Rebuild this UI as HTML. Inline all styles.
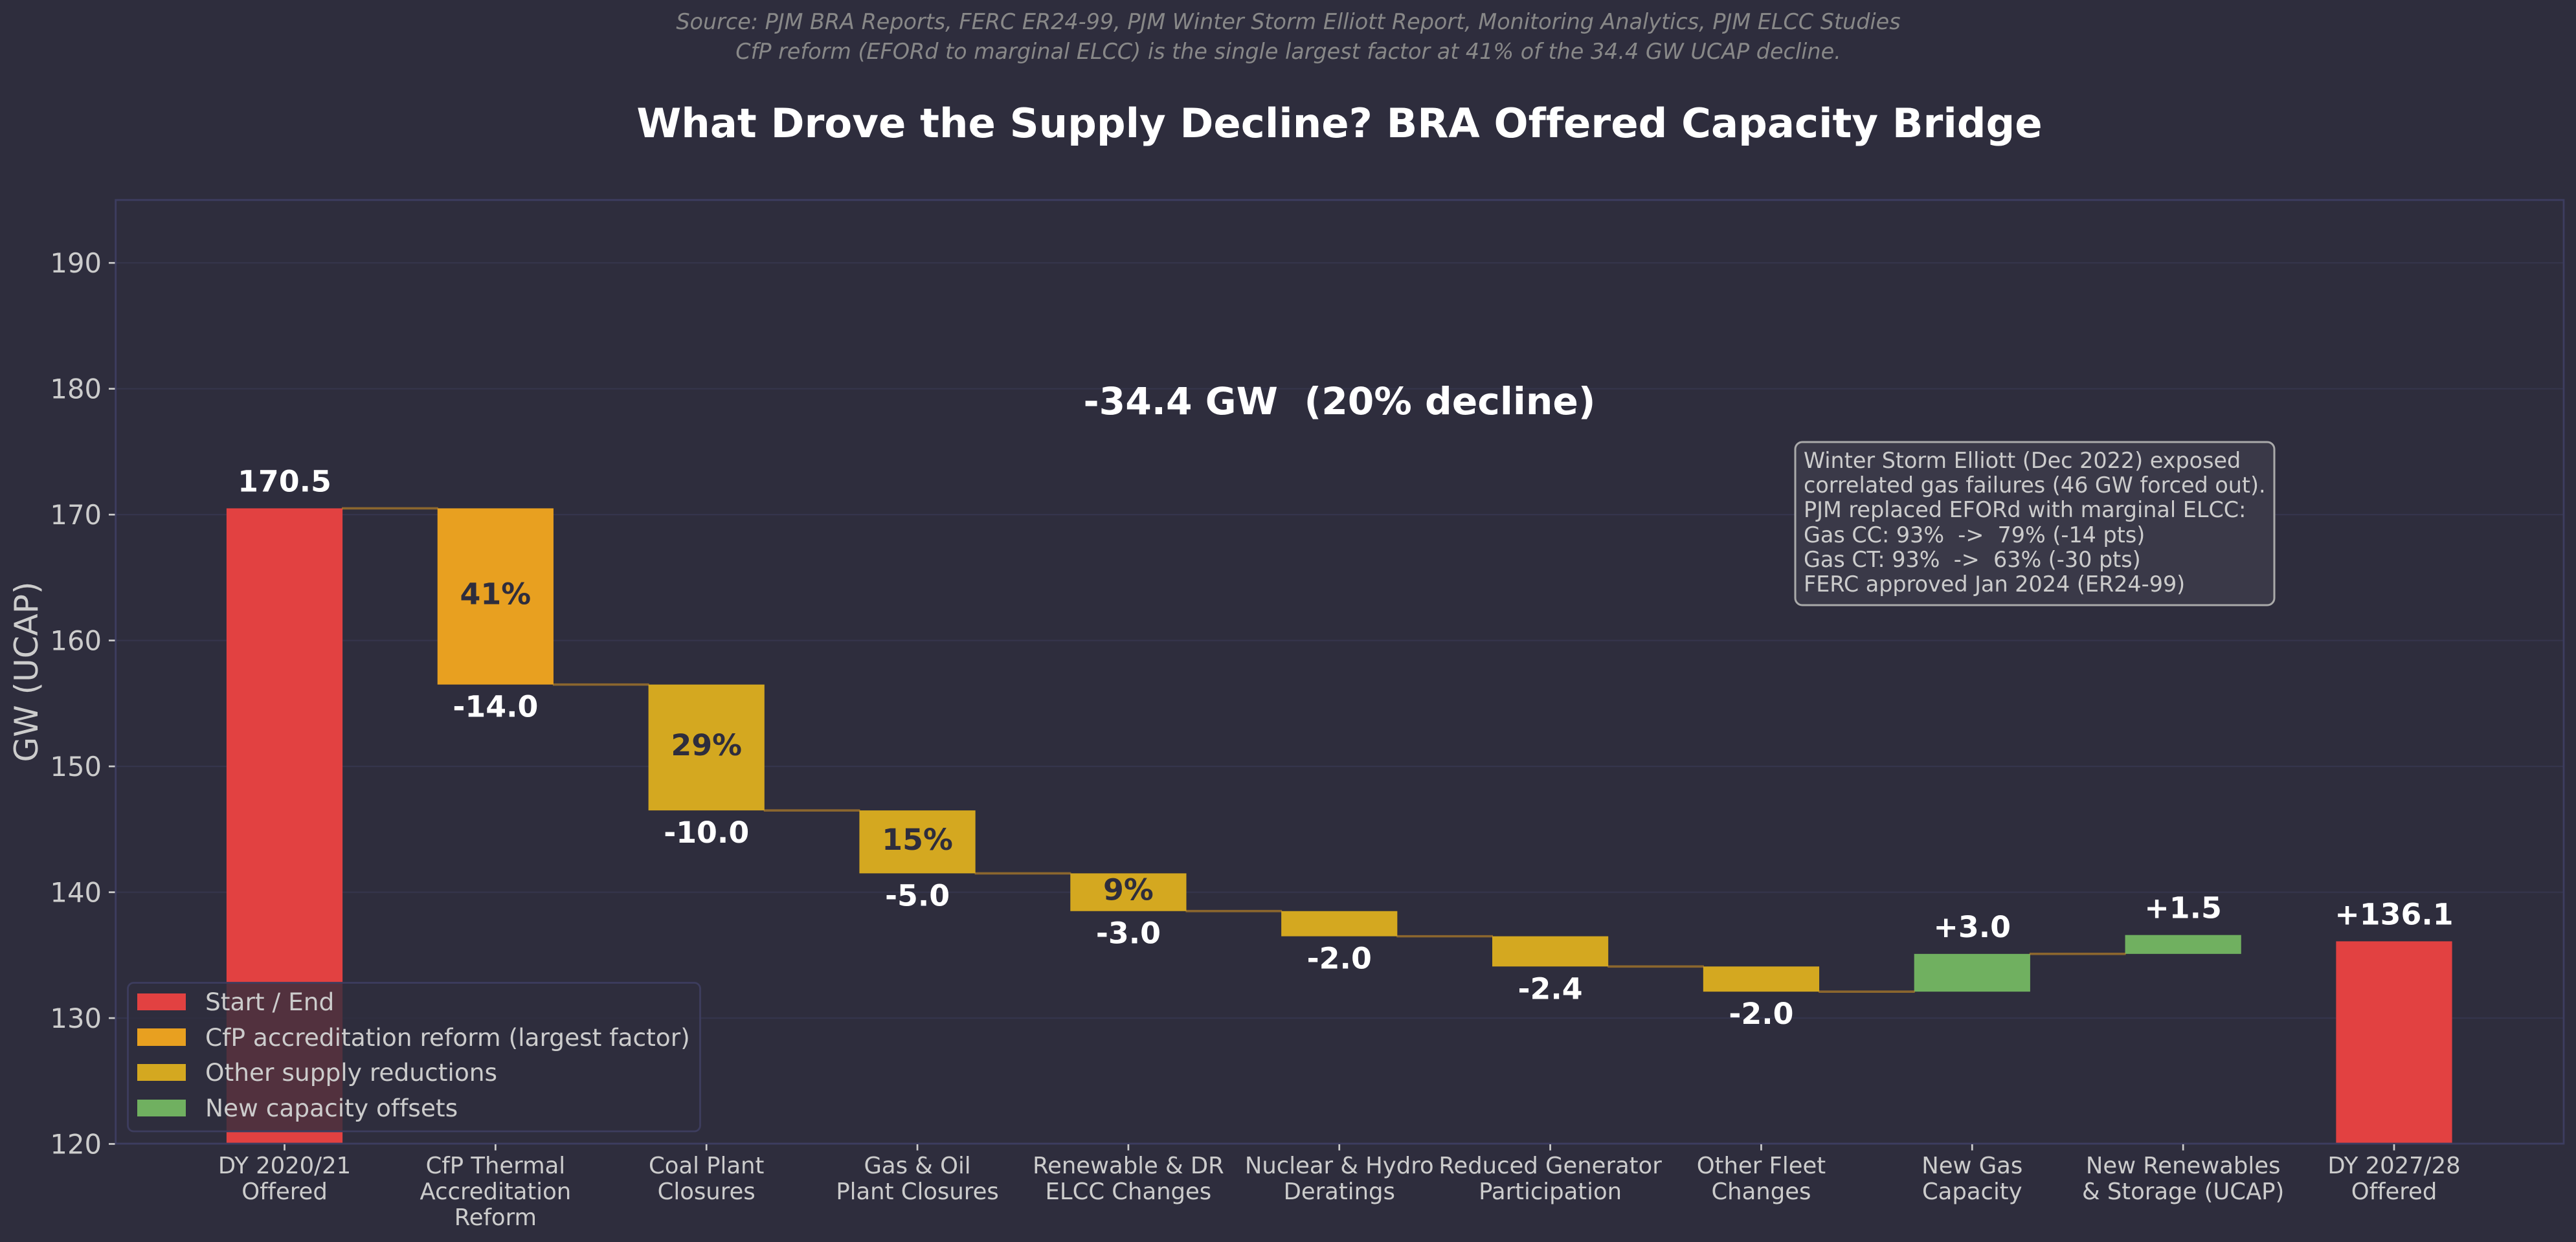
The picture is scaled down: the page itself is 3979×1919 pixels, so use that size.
<!DOCTYPE html>
<html lang="en">
<head>
<meta charset="utf-8">
<title>BRA Offered Capacity Bridge</title>
<style>
html,body{margin:0;padding:0;background:#2e2d3d;}
svg{display:block;font-family:"DejaVu Sans","Liberation Sans",sans-serif;font-variant-ligatures:none;}
</style>
</head>
<body>
<svg id="chart" xmlns="http://www.w3.org/2000/svg" width="3979" height="1919" viewBox="0 0 3979 1919">
  <rect x="0" y="0" width="3979" height="1919" fill="#2e2d3d"/>
  <text x="1990" y="45" text-anchor="middle" font-size="33.4" font-style="italic" fill="#888888">Source: PJM BRA Reports, FERC ER24-99, PJM Winter Storm Elliott Report, Monitoring Analytics, PJM ELCC Studies</text>
  <text x="1990" y="91" text-anchor="middle" font-size="33.4" font-style="italic" fill="#888888">CfP reform (EFORd to marginal ELCC) is the single largest factor at 41% of the 34.4 GW UCAP decline.</text>
  <text x="2069" y="212" text-anchor="middle" font-size="62.5" font-weight="bold" fill="#ffffff">What Drove the Supply Decline? BRA Offered Capacity Bridge</text>
  <g id="grid"></g>
  <g id="bars"></g>
  <g id="connectors"></g>
  <rect x="178.7" y="309" width="3781.3" height="1458" fill="none" stroke="#3d3d60" stroke-width="2.8"/>
  <g id="yaxis"></g>
  <g id="xaxis"></g>
  <g id="labels"></g>
  <text transform="translate(58,1038) rotate(-90)" text-anchor="middle" font-size="50" fill="#cccccc">GW (UCAP)</text>
  <text x="2069" y="640" text-anchor="middle" font-size="58.3" font-weight="bold" fill="#ffffff" xml:space="preserve" style="white-space:pre">-34.4 GW  (20% decline)</text>
  <g>
    <rect x="2773" y="683" width="740" height="252" rx="11" fill="#3a3948" stroke="#aaaaaa" stroke-width="3"/>
    <text font-size="33.4" fill="#cccccc" xml:space="preserve" style="white-space:pre"><tspan x="2786" y="723">Winter Storm Elliott (Dec 2022) exposed</tspan><tspan x="2786" y="761">correlated gas failures (46 GW forced out).</tspan><tspan x="2786" y="799">PJM replaced EFORd with marginal ELCC:</tspan><tspan x="2786" y="838">Gas CC: 93%  -&gt;  79% (-14 pts)</tspan><tspan x="2786" y="876">Gas CT: 93%  -&gt;  63% (-30 pts)</tspan><tspan x="2786" y="914">FERC approved Jan 2024 (ER24-99)</tspan></text>
  </g>
  <g>
    <rect x="197.5" y="1518.5" width="884" height="229.5" rx="9" fill="#2e2d3d" fill-opacity="0.8" stroke="#3d3d5e" stroke-width="2.8"/>
    <g>
      <rect x="212" y="1535" width="75" height="26" fill="#e24141"/>
      <text x="317" y="1561" font-size="37.5" fill="#cccccc">Start / End</text>
    </g>
    <g>
      <rect x="212" y="1589" width="75" height="27" fill="#e8a020"/>
      <text x="317" y="1616" font-size="37.5" fill="#cccccc">CfP accreditation reform (largest factor)</text>
    </g>
    <g>
      <rect x="212" y="1644" width="75" height="26" fill="#d4a820"/>
      <text x="317" y="1670" font-size="37.5" fill="#cccccc">Other supply reductions</text>
    </g>
    <g>
      <rect x="212" y="1699" width="75" height="26" fill="#70b060"/>
      <text x="317" y="1725" font-size="37.5" fill="#cccccc">New capacity offsets</text>
    </g>
  </g>
</svg>
<script>
const categories = ["DY 2020/21\nOffered","CfP Thermal\nAccreditation\nReform","Coal Plant\nClosures","Gas & Oil\nPlant Closures","Renewable & DR\nELCC Changes","Nuclear & Hydro\nDeratings","Reduced Generator\nParticipation","Other Fleet\nChanges","New Gas\nCapacity","New Renewables\n& Storage (UCAP)","DY 2027/28\nOffered"];
const deltas = [170.5,-14.0,-10.0,-5.0,-3.0,-2.0,-2.4,-2.0,3.0,1.5,136.1];
const barKinds = ["total","cfp","other","other","other","other","other","other","new","new","total"];
const shareLabels = ["","41%","29%","15%","9%","","","","","",""];
const valueLabels = ["170.5","-14.0","-10.0","-5.0","-3.0","-2.0","-2.4","-2.0","+3.0","+1.5","+136.1"];
const yTicks = [120,130,140,150,160,170,180,190];

const NS = 'http://www.w3.org/2000/svg';
const yScale = v => 1767.5 - (v - 120) * 19.447;
const xScale = i => 439.5 + i * 325.85;
const BAR_W = 179.2;
const fills = {total:'#e24141',cfp:'#e8a020',other:'#d4a820',new:'#70b060'};
function make(parent, tag, attrs, text){
  const n = document.createElementNS(NS, tag);
  for (const k in attrs) n.setAttribute(k, attrs[k]);
  if (text !== undefined) n.textContent = text;
  parent.appendChild(n);
  return n;
}
const grid = document.getElementById('grid');
const conn = document.getElementById('connectors');
const bars = document.getElementById('bars');
const yaxis = document.getElementById('yaxis');
const xaxis = document.getElementById('xaxis');
const labels = document.getElementById('labels');

yTicks.forEach(t => {
  const y = yScale(t);
  const line = make(grid,'line',{x1:178,x2:3960,y1:y,y2:y,stroke:'#35354c','stroke-width':2.2});
  
  
  const tick = make(yaxis,'line',{x1:168,x2:177.5,y1:y,y2:y,stroke:'#cccccc','stroke-width':2.7});
  
  
  const lab = make(yaxis,'text',{x:157,y:y+15,'text-anchor':'end','font-size':41.7,fill:'#cccccc'},String(t));
  
  
});

let running = 0;
deltas.forEach((d,i) => {
  const kind = barKinds[i];
  let lo, hi, level;
  if (kind === 'total') { lo = 120; hi = d; level = d; running = d; }
  else { const next = running + d; lo = Math.min(running,next); hi = Math.max(running,next); level = next; running = next; }
  const cx = xScale(i);
  const r = make(bars,'rect',{x:cx-BAR_W/2,y:yScale(hi),width:BAR_W,height:yScale(lo)-yScale(hi),fill:fills[kind]});
  
  
  if (i < deltas.length - 2) {
    const c = make(conn,'line',{x1:cx+BAR_W/2-1,x2:xScale(i+1)-BAR_W/2+1,y1:yScale(level),y2:yScale(level),stroke:'#e8a020','stroke-opacity':0.5,'stroke-width':3.6});
    
    
  }
  const above = d > 0;
  const vy = above ? yScale(hi) - 26 : yScale(lo) + 50;
  const vl = make(labels,'text',{x:cx,y:vy,'text-anchor':'middle','font-size':45.8,'font-weight':'bold',fill:'#ffffff'},valueLabels[i]);
  
  
  if (shareLabels[i]) {
    const sl = make(labels,'text',{x:cx,y:(yScale(hi)+yScale(lo))/2+12,'text-anchor':'middle','font-size':45.8,'font-weight':'bold',fill:'#2e2d3d'},shareLabels[i]);
    
    
  }
  const tk = make(xaxis,'line',{x1:cx,x2:cx,y1:1768,y2:1777.5,stroke:'#cccccc','stroke-width':2.7});
  
  
  const tl = make(xaxis,'text',{'text-anchor':'middle','font-size':35.4,fill:'#cccccc'});
  
  
  categories[i].split('\n').forEach((s,j) => {
    make(tl,'tspan',{x:cx,y:1813+j*40},s);
  });
});
</script>
</body>
</html>
